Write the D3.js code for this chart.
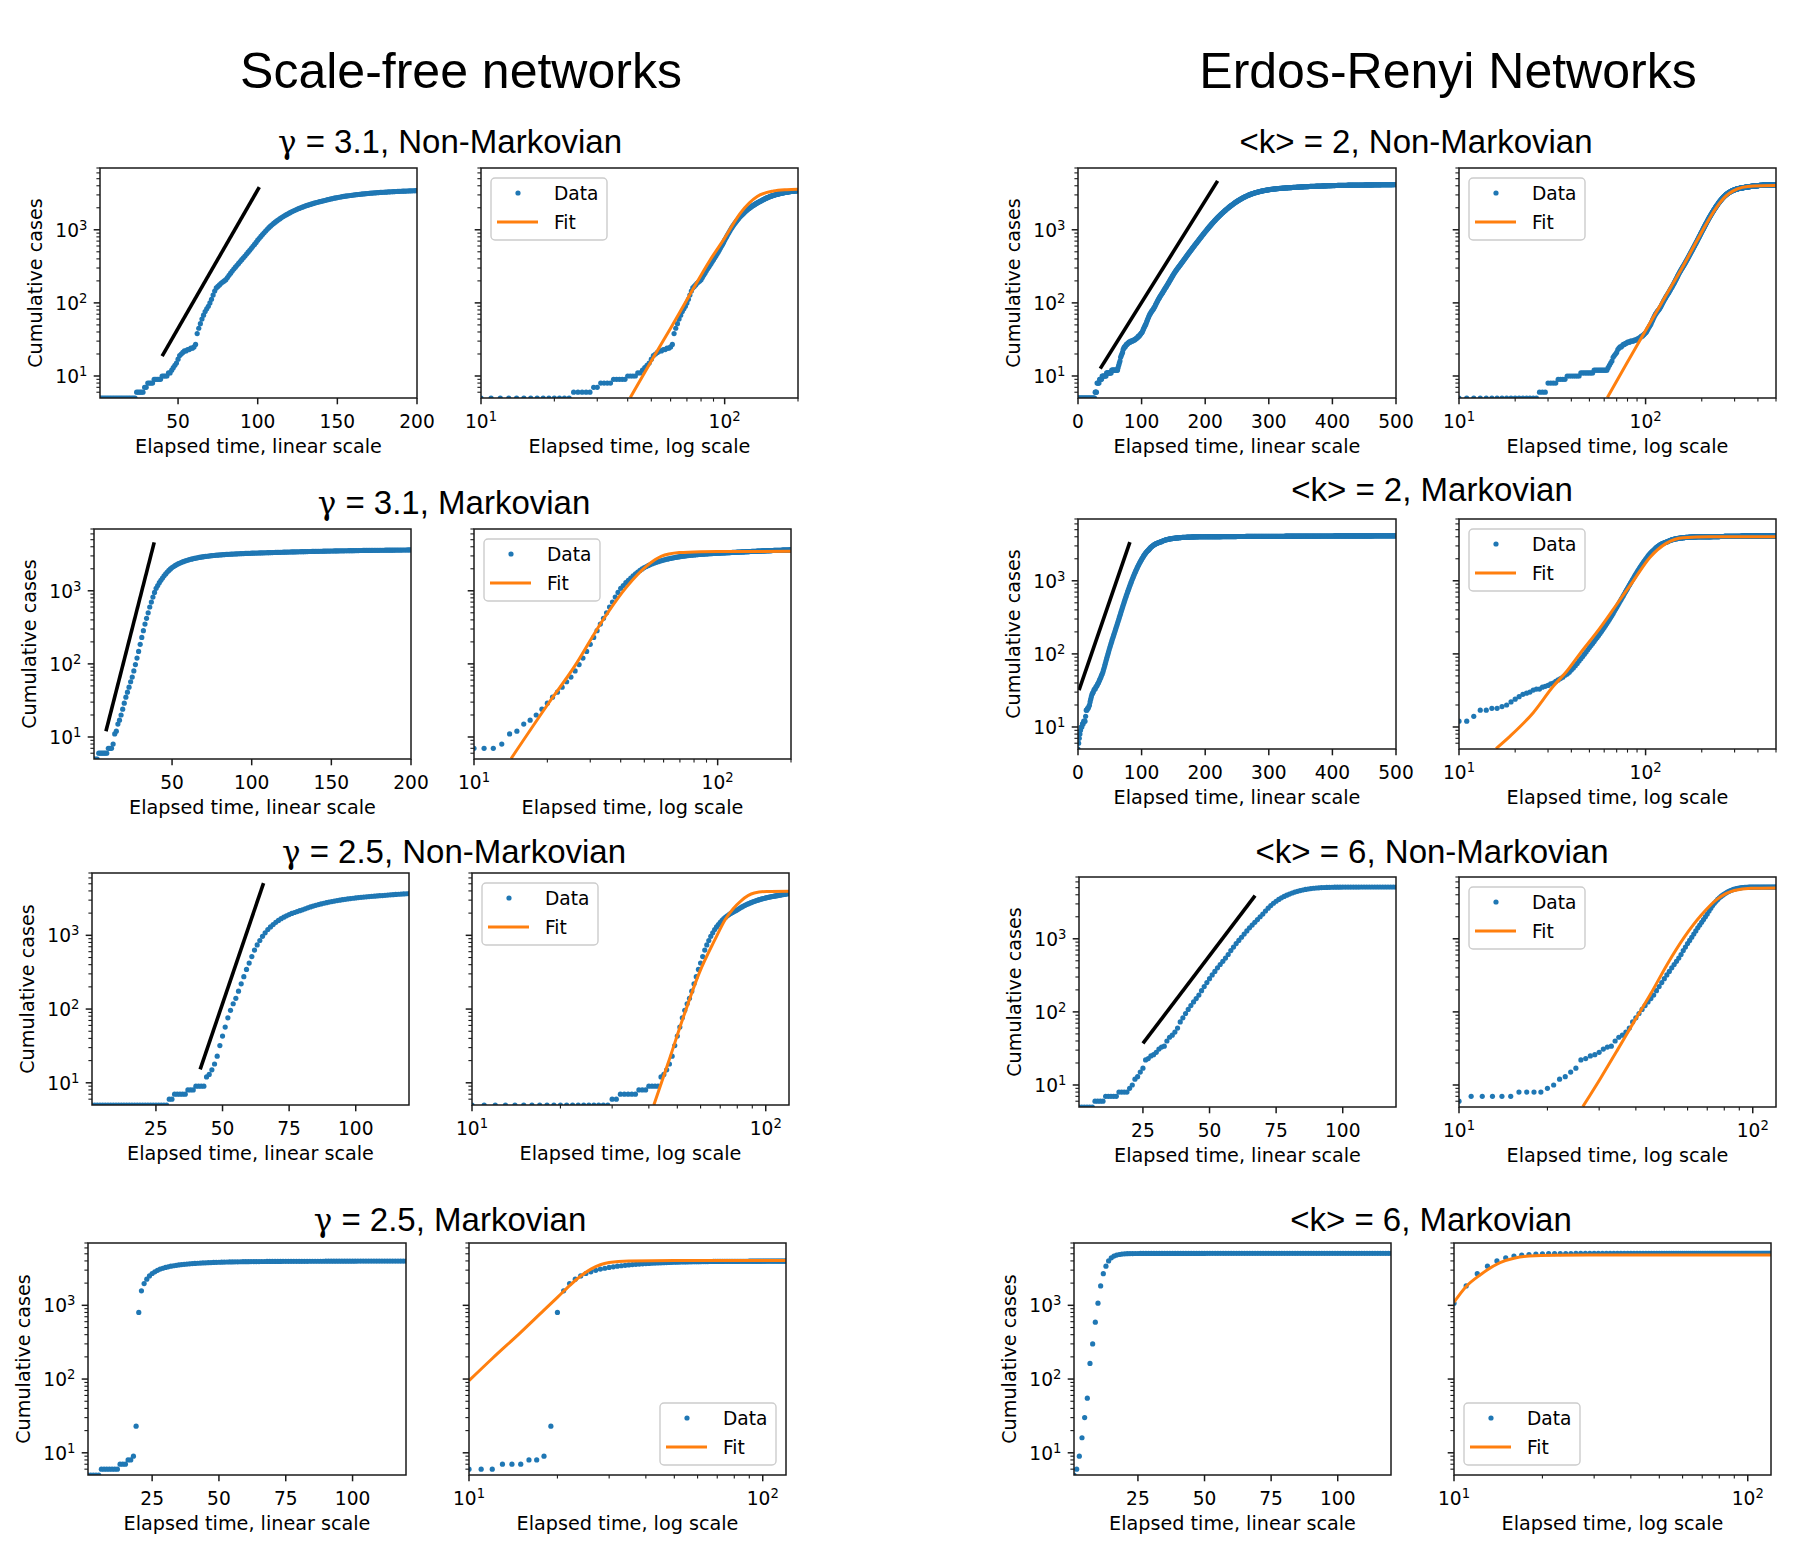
<!DOCTYPE html>
<html><head><meta charset="utf-8">
<script src="https://cdn.jsdelivr.net/npm/d3@7"></script>
<style>body{margin:0;background:#fff}</style>
</head><body><svg id="c" width="1801" height="1568"></svg>
<script>
// ---------------- DATA ----------------
// Cumulative cases at consecutive integer times starting at *_start
const sf31nmStart = 1;
const sf31nmCases = [
5,5,5,5,5,5,5,5,5,5, 5,5,5,5,5,5,5,5,5,5, 5,5,5,6,6,6,6,6,7,7,
8,8,8,8,9,9,9,9,9,10, 10,10,10,11,11,12,13,14,15,17, 19,20,21,22,22,23,23,24,24,25,
27,38,45,52,60,68,76,83,90,100, 112,128,145,160,168,176,185,193,200,208,
222,238,255,272,290,308,327,347,368,390, 413,438,465,494,525,558,593,630,672,720,
765,812,860,910,962,1015,1068,1120,1170,1220, 1270,1320,1370,1420,1470,1520,1565,1610,1655,1700,
1745,1790,1835,1878,1920,1960,2000,2040,2080,2120, 2155,2190,2225,2260,2295,2328,2360,2392,2420,2450,
2483,2516,2548,2580,2611,2642,2672,2702,2731,2760, 2785,2810,2834,2857,2880,2902,2923,2944,2964,2984,
3003,3021,3039,3056,3073,3089,3105,3120,3135,3150, 3164,3178,3191,3204,3216,3228,3240,3251,3262,3273,
3283,3293,3303,3312,3321,3330,3339,3347,3355,3363, 3371,3378,3385,3392,3399,3406,3412,3418,3424,3430];
const sf31nmFit = [[41,5.07],[50,16],[60,45],[72,130],[87.3,390],[100,770],[116,1690],[136,2850],[158.6,3390],[180,3540],[200,3590]];
const sf31nmSlope = [[40,18.7],[101,3840]];

const sf31mStart = 1;
const sf31mCases = [
5,5,5,6,6,6,6,6,6,7, 7,7,8,11,12,15,17,20,24,29, 35,41,48,57,66,80,98,120,148,185,
230,285,350,420,500,600,700,820,950,1080, 1180,1290,1390,1490,1600,1700,1800,1900,1990,2080,
2150,2220,2285,2345,2400,2452,2500,2545,2588,2630, 2668,2704,2738,2770,2800,2828,2855,2880,2904,2927,
2948,2968,2987,3005,3022,3038,3053,3067,3080,3093, 3105,3117,3128,3139,3149,3159,3168,3177,3186,3194,
3202,3210,3218,3225,3232,3239,3246,3252,3258,3264, 3270,3276,3282,3288,3294,3300,3305,3310,3315,3320,
3325,3330,3335,3340,3345,3350,3355,3360,3365,3370, 3375,3380,3385,3390,3395,3400,3405,3410,3415,3420,
3424,3428,3432,3436,3440,3444,3448,3452,3456,3460, 3464,3468,3472,3476,3480,3484,3488,3492,3496,3500,
3503,3506,3509,3512,3515,3518,3521,3524,3527,3530, 3533,3536,3539,3542,3545,3548,3551,3554,3557,3560,
3562,3564,3566,3568,3570,3572,3574,3576,3578,3580, 3582,3584,3586,3588,3590,3592,3594,3596,3598,3600,
3602,3604,3606,3608,3610,3612,3614,3616,3618,3620];
const sf31mFit = [[14.2,5.07],[20.3,29.4],[25.9,93],[33.2,363],[42.5,1150],[51.8,2260],[58.6,2950],[69.6,3330],[85,3430],[100,3450],[200,3460]];
const sf31mSlope = [[8.5,12],[38.8,4600]];

const sf25nmStart = 1;
const sf25nmCases = [
5,5,5,5,5,5,5,5,5,5, 5,5,5,5,5,5,5,5,5,5, 5,5,5,5,5,5,5,5,5,6,
6,7,7,7,7,7,8,8,8,9, 9,9,9,12,13,15,18,23,32,43, 57,76,96,118,140,175,220,275,345,420,
515,630,740,850,970,1080,1200,1300,1400,1500, 1590,1680,1760,1840,1910,1980,2040,2100,2160,2220,
2290,2360,2425,2490,2550,2610,2668,2722,2775,2825, 2870,2915,2958,3000,3040,3078,3115,3150,3183,3215,
3245,3274,3302,3328,3353,3377,3400,3422,3443,3463, 3490,3515,3540,3563,3585,3606,3626,3645,3663,3680];
const sf25nmFit = [[41.6,5],[46.5,18.4],[52.5,79],[59.4,310],[67.2,880],[72.9,1650],[82.4,2940],[91.4,3740],[101,3930],[120,3950]];
const sf25nmSlope = [[41.6,15.2],[65.4,5100]];

const sf25mStart = 1;
const sf25mCases = [
5,5,5,5,5,6,6,6,6,6, 6,6,7,7,7,8,8,9,23,800, 1570,1970,2260,2500,2700,2850,2980,3090,3180,3260,
3330,3390,3440,3490,3530,3570,3600,3630,3655,3680, 3700,3720,3740,3757,3773,3788,3802,3815,3827,3838,
3848,3857,3865,3872,3879,3885,3891,3896,3901,3906, 3910,3914,3918,3921,3924,3927,3930,3932,3934,3936,
3938,3940,3942,3944,3946,3948,3950,3951,3952,3953, 3954,3955,3956,3957,3958,3959,3960,3961,3962,3963,
3964,3965,3966,3967,3968,3969,3970,3971,3972,3973, 3974,3975,3976,3977,3978,3978,3979,3979,3980,3980,
3981,3981,3982,3982,3983,3983,3984,3984,3985,3985];
const sf25mFit = [[10,95],[12,190],[15,430],[18,860],[20,1280],[22,1850],[24,2500],[26,3100],[28,3550],[30,3800],[35,4000],[50,4050],[120,4050]];

const er2nmStart = 0;
const er2nmCases = [
5,5,5,5,5,5,5,5,5,5, 5,5,5,5,5,5,5,5,5,5, 5,5,5,5,5,5,5,6,6,6,
8,8,8,8,9,9,9,9,10,10, 10,10,10,10,10,11,11,11,11,11, 11,11,11,12,12,12,12,12,12,12,
12,12,12,13,14,15,16,18,19,20, 21,23,24,25,25,26,27,27,28,28, 29,29,29,30,30,30,30,31,31,31,
32,32,33,33,34,35,35,36,37,38, 39,40,42,44,46,48,50,52,55,58, 61,64,67,70,72,75,77,79,81,84,
87,90,94,98,102,106,110,114,118,122, 126,130,134,138,143,148,153,158,163,168,
174,180,186,192,199,206,213,220,228,236, 244,252,260,268,276,284,292,300,308,316,
324,333,342,352,362,372,382,393,404,415, 427,439,451,464,477,490,503,517,531,545,
560,575,590,606,622,638,655,672,690,708, 727,746,766,786,806,827,848,870,892,915,
938,962,986,1010,1035,1060,1086,1112,1138,1165, 1192,1220,1248,1276,1305,1334,1363,1392,1422,1452,
1482,1512,1542,1573,1604,1635,1666,1697,1728,1760, 1792,1824,1856,1888,1920,1953,1986,2019,2052,2085,
2118,2151,2184,2217,2250,2283,2316,2349,2382,2414, 2446,2478,2510,2542,2573,2604,2635,2665,2695,2725,
2754,2783,2811,2839,2866,2893,2919,2945,2970,2995, 3019,3043,3066,3089,3111,3133,3154,3175,3195,3215,
3234,3253,3271,3289,3306,3323,3340,3356,3372,3387, 3402,3417,3431,3445,3458,3471,3484,3496,3508,3520,
3531,3542,3553,3563,3573,3583,3592,3601,3610,3619, 3627,3635,3643,3651,3658,3665,3672,3679,3686,3692,
3698,3704,3710,3716,3722,3727,3732,3737,3742,3747, 3752,3757,3762,3767,3772,3777,3782,3787,3792,3797,
3802,3807,3812,3817,3822,3827,3832,3837,3842,3847, 3852,3856,3860,3864,3868,3872,3876,3880,3884,3888,
3892,3896,3900,3904,3908,3912,3916,3920,3924,3928, 3932,3935,3938,3941,3944,3947,3950,3953,3956,3959,
3962,3965,3968,3971,3974,3977,3980,3983,3986,3989, 3992,3995,3998,4001,4004,4007,4010,4013,4016,4019,
4022,4024,4026,4028,4030,4032,4034,4036,4038,4040, 4042,4044,4046,4048,4050,4052,4054,4056,4058,4060,
4062,4064,4066,4068,4070,4072,4074,4076,4078,4080, 4081,4082,4083,4084,4085,4086,4087,4088,4089,4090,
4091,4092,4093,4094,4095,4096,4097,4098,4099,4100, 4101,4102,4103,4104,4105,4106,4107,4108,4109,4110,
4111,4112,4113,4114,4115,4116,4117,4118,4119,4120, 4121,4122,4123,4124,4125,4126,4127,4128,4129,4130,
4131,4132,4133,4134,4135,4136,4137,4138,4139,4140, 4141,4142,4143,4144,4145,4146,4147,4148,4149,4150,
4151];
const er2nmFit = [[62.4,5.07],[79,14.7],[100,42],[129,128],[159,320],[195,830],[239,2000],[270,2900],[295,3400],[330,3800],[380,3980],[500,4030]];
const er2nmSlope = [[35,12.6],[219.5,4660]];

const er2mStart = 0;
const er2mCases = [
5,6,7,8,9,10,10,11,11,12, 12,12,14,17,17,18,18,19,20,22, 24,26,28,29,30,32,33,33,35,36,
37,39,40,42,44,46,48,51,53,56, 60,64,69,74,80,86,92,99,106,114, 122,130,139,148,158,168,179,190,202,215,
229,244,260,277,295,315,336,358,382,407, 434,462,492,523,556,590,626,664,703,744,
787,832,879,927,977,1029,1083,1138,1195,1253, 1313,1374,1436,1499,1563,1628,1693,1759,1825,1891,
1957,2030,2100,2170,2240,2305,2370,2430,2490,2545, 2595,2640,2710,2775,2835,2890,2942,2990,3035,3078,
3118,3155,3190,3223,3254,3283,3310,3335,3358,3380, 3400,3430,3465,3498,3528,3556,3582,3606,3628,3648,
3667,3685,3702,3718,3733,3747,3760,3772,3784,3795, 3806,3816,3826,3835,3844,3852,3860,3868,3875,3882,
3889,3895,3901,3907,3913,3918,3923,3928,3933,3938, 3942,3946,3950,3954,3958,3962,3965,3968,3971,3974,
3977,3980,3983,3986,3988,3990,3992,3994,3996,3998, 4000,4001,4002,4002,4003,4003,4004,4004,4005,4005,
4006,4006,4007,4007,4008,4008,4009,4009,4010,4010, 4011,4011,4012,4012,4013,4013,4014,4014,4015,4015,
4016,4016,4017,4017,4018,4018,4019,4019,4020,4020, 4021,4021,4022,4022,4023,4023,4024,4024,4025,4025,
4026,4026,4027,4027,4028,4028,4029,4029,4030,4030, 4031,4031,4032,4032,4033,4033,4034,4034,4035,4035,
4036,4036,4037,4037,4038,4038,4039,4039,4040,4040, 4041,4041,4042,4042,4043,4043,4044,4044,4045,4045,
4046,4046,4047,4047,4048,4048,4049,4049,4050,4050, 4051,4051,4052,4052,4053,4053,4054,4054,4055,4055,
4056,4056,4057,4057,4058,4058,4059,4059,4060,4060, 4061,4061,4062,4062,4063,4063,4064,4064,4065,4065,
4066,4066,4067,4067,4068,4068,4069,4069,4070,4070, 4071,4071,4072,4072,4073,4073,4074,4074,4075,4075,
4076,4076,4077,4077,4078,4078,4079,4079,4080,4080, 4081,4081,4082,4082,4083,4083,4084,4084,4085,4085,
4086,4086,4087,4087,4088,4088,4089,4089,4090,4090, 4091,4091,4091,4092,4092,4092,4093,4093,4093,4094,
4094,4094,4095,4095,4095,4096,4096,4096,4097,4097, 4097,4098,4098,4098,4099,4099,4099,4100,4100,4100,
4101,4101,4101,4102,4102,4102,4103,4103,4103,4104, 4104,4104,4104,4105,4105,4105,4105,4106,4106,4106,
4106,4107,4107,4107,4107,4108,4108,4108,4108,4109, 4109,4109,4109,4109,4110,4110,4110,4110,4110,4111,
4111,4111,4111,4111,4111,4112,4112,4112,4112,4112, 4112,4113,4113,4113,4113,4113,4113,4114,4114,4114,
4114,4114,4114,4114,4115,4115,4115,4115,4115,4115, 4115,4116,4116,4116,4116,4116,4116,4116,4116,4117,
4117,4117,4117,4117,4117,4117,4117,4117,4118,4118, 4118,4118,4118,4118,4118,4118,4118,4118,4118,4119,
4119];
const er2mFit = [[15.8,5.06],[18.8,7.5],[25,15.7],[32,36],[37.8,58],[44.4,100],[56.9,225],[69.8,470],[86,1000],[105.7,2100],[129,3250],[159,3880],[220,4000],[500,4000]];
const er2mSlope = [[1.6,32],[81.6,3370]];

const er6nmStart = 1;
const er6nmCases = [
5,5,5,5,5,5,6,6,6,6, 7,7,7,7,7,8,8,8,8,9, 10,12,13,15,17,22,23,25,26,28,
31,33,34,40,45,48,53,60,73,83, 95,108,122,137,152,170,195,222,252,285,
320,358,400,445,492,545,610,690,770,860, 950,1050,1160,1280,1410,1540,1680,1830,2000,2180,
2400,2620,2850,3060,3260,3450,3630,3800,3950,4090, 4230,4350,4460,4560,4650,4730,4800,4860,4910,4950,
4985,5010,5030,5045,5058,5068,5076,5082,5087,5091, 5094,5097,5099,5101,5103,5104,5105,5106,5107,5108,
5108,5109,5109,5110,5110,5111,5111,5112,5112,5112];
const er6nmFit = [[26.4,5.07],[30.3,12.3],[34.6,30],[39.4,73],[45,178],[51.3,457],[58.5,1054],[66.6,2080],[75.9,3510],[86.5,4570],[98.6,4900],[120,4960]];
const er6nmSlope = [[25,37],[67.1,3900]];

const er6mStart = 1;
const er6mCases = [
5,6,9,16,30,55,163,300,590,1070, 1830,2690,3390,4000,4410,4650,4800,4890,4950,4990,
5010,5025,5035,5042,5047,5050,5052,5054,5055,5056, 5057,5057,5058,5058,5058,5059,5059,5059,5060,5060,
5060,5060,5061,5061,5061,5061,5062,5062,5062,5062, 5063,5063,5063,5063,5063,5064,5064,5064,5064,5064,
5064,5065,5065,5065,5065,5065,5065,5065,5066,5066, 5066,5066,5066,5066,5066,5066,5067,5067,5067,5067,
5067,5067,5067,5067,5067,5068,5068,5068,5068,5068, 5068,5068,5068,5068,5068,5069,5069,5069,5069,5069,
5069,5069,5069,5069,5069,5069,5070,5070,5070,5070, 5070,5070,5070,5070,5070,5070,5070,5070,5070,5070];
const er6mFit = [[10,1100],[11,1800],[12.3,2600],[14.35,3800],[16,4350],[18,4650],[22,4780],[30,4800],[120,4800]];

// tick values
const yMajorTicks = [10, 100, 1000];
const yMinorTicks = [6,7,8,9,20,30,40,50,60,70,80,90,200,300,400,500,600,700,800,900,2000,3000,4000,5000,6000,7000];
const xLogMajorTicks = [10, 100];
const xLogMinorTicks = [20,30,40,50,60,70,80,90,200,300,400,500];
const linTicks200 = [50,100,150,200];
const linTicks500 = [0,100,200,300,400,500];
const linTicks120 = [25,50,75,100];

const mainTitles = [
  {text:"Scale-free networks", x:461},
  {text:"Erdos-Renyi Networks", x:1448}
];

// ---------------- LAYOUT ----------------
const panels = [
 {pre:"γ", title:" = 3.1, Non-Markovian", tx:450, ty:153, top:168, bottom:398, linL:100, linR:417, logL:481, logR:798,
  linDomain:[1,200], linTicks:linTicks200, logDomain:[10,200], start:sf31nmStart, cases:sf31nmCases, fit:sf31nmFit, slope:sf31nmSlope, legend:"ul"},
 {pre:"γ", title:" = 3.1, Markovian", tx:454, ty:514, top:529, bottom:759, linL:94, linR:411, logL:474, logR:791,
  linDomain:[1,200], linTicks:linTicks200, logDomain:[10,200], start:sf31mStart, cases:sf31mCases, fit:sf31mFit, slope:sf31mSlope, legend:"ul"},
 {pre:"γ", title:" = 2.5, Non-Markovian", tx:454, ty:863, top:873, bottom:1105, linL:92, linR:409, logL:472, logR:789,
  linDomain:[1,120], linTicks:linTicks120, logDomain:[10,120], start:sf25nmStart, cases:sf25nmCases, fit:sf25nmFit, slope:sf25nmSlope, legend:"ul"},
 {pre:"γ", title:" = 2.5, Markovian", tx:450, ty:1231, top:1243, bottom:1475, linL:88, linR:406, logL:469, logR:786,
  linDomain:[1,120], linTicks:linTicks120, logDomain:[10,120], start:sf25mStart, cases:sf25mCases, fit:sf25mFit, slope:null, legend:"lr"},
 {pre:"", title:"<k> = 2, Non-Markovian", tx:1416, ty:153, top:168, bottom:398, linL:1078, linR:1396, logL:1459, logR:1776,
  linDomain:[0,500], linTicks:linTicks500, logDomain:[10,500], start:er2nmStart, cases:er2nmCases, fit:er2nmFit, slope:er2nmSlope, legend:"ul"},
 {pre:"", title:"<k> = 2, Markovian", tx:1432, ty:501, top:519, bottom:749, linL:1078, linR:1396, logL:1459, logR:1776,
  linDomain:[0,500], linTicks:linTicks500, logDomain:[10,500], start:er2mStart, cases:er2mCases, fit:er2mFit, slope:er2mSlope, legend:"ul"},
 {pre:"", title:"<k> = 6, Non-Markovian", tx:1432, ty:863, top:877, bottom:1107, linL:1079, linR:1396, logL:1459, logR:1776,
  linDomain:[1,120], linTicks:linTicks120, logDomain:[10,120], start:er6nmStart, cases:er6nmCases, fit:er6nmFit, slope:er6nmSlope, legend:"ul"},
 {pre:"", title:"<k> = 6, Markovian", tx:1431, ty:1231, top:1243, bottom:1475, linL:1074, linR:1391, logL:1454, logR:1771,
  linDomain:[1,120], linTicks:linTicks120, logDomain:[10,120], start:er6mStart, cases:er6mCases, fit:er6mFit, slope:null, legend:"ll"}
];

// ---------------- DRAW ----------------
const AX = "#1a1a1a", BLUE = "#1f77b4", ORANGE = "#ff7f0e";
const TICKFONT = "DejaVu Sans";
const DOT_R = 2.6;
const svg = d3.select("#c");
svg.append("rect").attr("width",1801).attr("height",1568).attr("fill","#fff");
const defs = svg.append("defs");
let clipN = 0;

mainTitles.forEach(t => {
  svg.append("text").attr("x", t.x).attr("y", 88).attr("text-anchor","middle")
    .attr("font-family","Liberation Sans, Arial, sans-serif").attr("font-size",50).attr("fill","#000").text(t.text);
});

function powLabel(sel, v) {
  const e = Math.round(Math.log10(v));
  sel.append("tspan").text("10");
  sel.append("tspan").attr("font-size", 13.2).attr("dy", -7).text(String(e));
}

function drawPanel(x, y, box, cfg) {
  const g = svg.append("g");
  const id = "clip" + (clipN++);
  defs.append("clipPath").attr("id", id).append("rect")
    .attr("x", box.l).attr("y", box.t).attr("width", box.r - box.l).attr("height", box.b - box.t);
  const plot = g.append("g").attr("clip-path", `url(#${id})`);
  const [xd0, xd1] = x.domain();
  const pts = cfg.points.filter(p => p[0] >= xd0 - 1e-9 && p[0] <= xd1 + 1e-9);
  plot.selectAll("circle").data(pts).join("circle")
    .attr("cx", d => x(d[0])).attr("cy", d => y(d[1])).attr("r", DOT_R).attr("fill", BLUE);
  if (cfg.slope) {
    plot.append("path").datum(cfg.slope)
      .attr("d", d3.line().x(d => x(d[0])).y(d => y(d[1])))
      .attr("fill","none").attr("stroke","#000").attr("stroke-width",3.6);
  }
  if (cfg.fit) {
    plot.append("path").datum(cfg.fit)
      .attr("d", d3.line().curve(d3.curveMonotoneX).x(d => x(d[0])).y(d => y(d[1])))
      .attr("fill","none").attr("stroke",ORANGE).attr("stroke-width",3);
  }
  // spines
  g.append("rect").attr("x", box.l).attr("y", box.t).attr("width", box.r - box.l).attr("height", box.b - box.t)
    .attr("fill","none").attr("stroke",AX).attr("stroke-width",1.5);
  // y ticks
  const [yd0, yd1] = y.domain();
  const inY = v => v >= yd0 - 1e-9 && v <= yd1 + 1e-9;
  yMajorTicks.filter(inY).forEach(v => {
    g.append("line").attr("x1", box.l).attr("x2", box.l - 6.3).attr("y1", y(v)).attr("y2", y(v))
      .attr("stroke", AX).attr("stroke-width", 1.5);
    if (cfg.yLabels) {
      const t = g.append("text").attr("x", box.l - 12.6).attr("y", y(v) + 7).attr("text-anchor","end")
        .attr("font-family", TICKFONT).attr("font-size", 18.6).attr("fill","#000");
      powLabel(t, v);
    }
  });
  yMinorTicks.filter(inY).forEach(v => {
    g.append("line").attr("x1", box.l).attr("x2", box.l - 3.6).attr("y1", y(v)).attr("y2", y(v))
      .attr("stroke", AX).attr("stroke-width", 1.1);
  });
  // x ticks
  const inX = v => v >= xd0 - 1e-9 && v <= xd1 + 1e-9;
  if (cfg.xLog) {
    xLogMajorTicks.filter(inX).forEach(v => {
      g.append("line").attr("x1", x(v)).attr("x2", x(v)).attr("y1", box.b).attr("y2", box.b + 6.3)
        .attr("stroke", AX).attr("stroke-width", 1.5);
      const t = g.append("text").attr("x", x(v)).attr("y", box.b + 30).attr("text-anchor","middle")
        .attr("font-family", TICKFONT).attr("font-size", 18.6).attr("fill","#000");
      powLabel(t, v);
    });
    xLogMinorTicks.filter(inX).forEach(v => {
      g.append("line").attr("x1", x(v)).attr("x2", x(v)).attr("y1", box.b).attr("y2", box.b + 3.6)
        .attr("stroke", AX).attr("stroke-width", 1.1);
    });
  } else {
    cfg.xTicks.filter(inX).forEach(v => {
      g.append("line").attr("x1", x(v)).attr("x2", x(v)).attr("y1", box.b).attr("y2", box.b + 6.3)
        .attr("stroke", AX).attr("stroke-width", 1.5);
      g.append("text").attr("x", x(v)).attr("y", box.b + 30).attr("text-anchor","middle")
        .attr("font-family", TICKFONT).attr("font-size", 18.6).attr("fill","#000").text(String(v));
    });
  }
  // x label
  g.append("text").attr("x", (box.l + box.r) / 2).attr("y", box.b + 55).attr("text-anchor","middle")
    .attr("font-family", TICKFONT).attr("font-size", 19.2).attr("fill","#000").text(cfg.xLabel);
  if (cfg.yLabels) {
    const cy = (box.t + box.b) / 2;
    g.append("text").attr("transform", `translate(${box.l - 58},${cy}) rotate(-90)`).attr("text-anchor","middle")
      .attr("font-family", TICKFONT).attr("font-size", 19.2).attr("fill","#000").text("Cumulative cases");
  }
  if (cfg.legend) drawLegend(g, box, cfg.legend);
}

function drawLegend(g, box, pos) {
  const w = 116, h = 62;
  let x0 = box.l + 10, y0 = box.t + 10;
  if (pos === "lr") { x0 = box.r - 10 - w; y0 = box.b - 10 - h; }
  if (pos === "ll") { x0 = box.l + 10; y0 = box.b - 10 - h; }
  const L = g.append("g");
  L.append("rect").attr("x", x0).attr("y", y0).attr("width", w).attr("height", h).attr("rx", 4)
    .attr("fill", "#fff").attr("fill-opacity", 0.8).attr("stroke", "#cccccc").attr("stroke-width", 1.4);
  L.append("circle").attr("cx", x0 + 27).attr("cy", y0 + 15).attr("r", DOT_R).attr("fill", BLUE);
  L.append("text").attr("x", x0 + 63).attr("y", y0 + 22).attr("font-family", TICKFONT).attr("font-size", 18.6)
    .attr("fill","#000").text("Data");
  L.append("line").attr("x1", x0 + 6).attr("x2", x0 + 47).attr("y1", y0 + 44).attr("y2", y0 + 44)
    .attr("stroke", ORANGE).attr("stroke-width", 3);
  L.append("text").attr("x", x0 + 63).attr("y", y0 + 51).attr("font-family", TICKFONT).attr("font-size", 18.6)
    .attr("fill","#000").text("Fit");
}

panels.forEach(p => {
  const points = p.cases.map((v, i) => [p.start + i, v]);
  const y = d3.scaleLog().domain([5, 7000]).range([p.bottom, p.top]);
  const xl = d3.scaleLinear().domain(p.linDomain).range([p.linL, p.linR]);
  const xg = d3.scaleLog().domain(p.logDomain).range([p.logL, p.logR]);
  const tt = svg.append("text").attr("x", p.tx).attr("y", p.ty).attr("text-anchor","middle")
    .attr("font-family","Liberation Sans, Arial, sans-serif").attr("font-size",33).attr("fill","#000");
  if (p.pre) tt.append("tspan").attr("font-family","DejaVu Serif, serif").attr("font-size",31).text(p.pre);
  tt.append("tspan").text(p.title);
  drawPanel(xl, y, {l:p.linL, r:p.linR, t:p.top, b:p.bottom},
    {points, slope:p.slope, fit:null, xLog:false, xTicks:p.linTicks, yLabels:true, xLabel:"Elapsed time, linear scale"});
  drawPanel(xg, y, {l:p.logL, r:p.logR, t:p.top, b:p.bottom},
    {points, slope:null, fit:p.fit, xLog:true, yLabels:false, xLabel:"Elapsed time, log scale", legend:p.legend});
});
</script>
</body></html>
